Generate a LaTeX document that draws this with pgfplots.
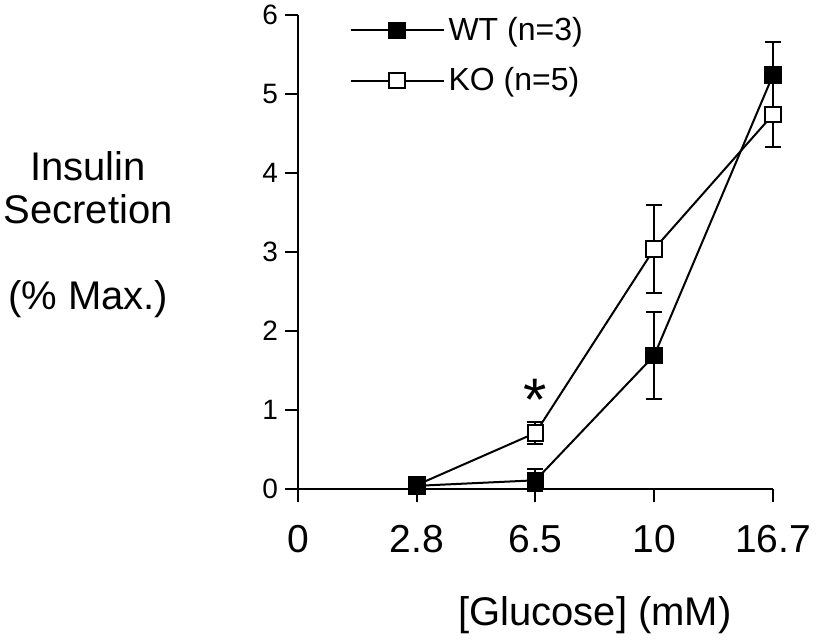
\documentclass[border=0pt]{standalone}
\usepackage{fontspec}
\setmainfont{Liberation Sans}
\usepackage{pgfplots}
\pgfplotsset{compat=1.18}
\begin{document}
\begin{tikzpicture}
\begin{axis}[
    scale only axis,
    width=237.5pt, height=237pt,
    xmin=0, xmax=4, ymin=0, ymax=6,
    axis x line*=bottom, axis y line*=left,
    axis line style={line width=1pt},
    xtick={0,1,2,3,4},
    xticklabels={0,2.8,6.5,10,16.7},
    ytick={0,1,...,6},
    tick align=outside,
    major tick length=6.5pt,
    tick style={line width=1pt, black},
    /pgf/number format/assume math mode=true,
    xticklabel style={font=\fontsize{19.5}{20}\selectfont, yshift=-8pt},
    yticklabel style={font=\fontsize{14}{14}\selectfont},
    clip=false,
    every axis y label/.style={at={(rel axis cs:-0.442,0.536)}, anchor=center,
        align=center, font=\fontsize{20}{21.5}\selectfont},
    every axis x label/.style={at={(rel axis cs:0.625,0)}, yshift=-63pt,
        anchor=center, font=\fontsize{20}{20}\selectfont},
    ylabel={Insulin\\Secretion\\[21.5pt](\% Max.)},
    xlabel={[Glucose] (mM)},
    legend style={draw=none, fill=none, at={(rel axis cs:0.095,1.013)},
        anchor=north west, font=\fontsize{16}{16}\selectfont,
        row sep=8pt, cells={anchor=west}},
    legend image code/.code={\draw[mark repeat=2,mark phase=2,#1]
        plot coordinates {(0pt,0pt)(23.25pt,0pt)(46.5pt,0pt)};},
    reverse legend,
]
\coordinate (O) at (rel axis cs:0,0);

% KO first so that WT squares sit on top at 2.8
\addplot[black, line width=1pt, mark=square*, mark size=3.9pt,
    mark options={fill=white, line width=1pt},
    error bars/.cd, y dir=both, y explicit,
    error bar style={line width=1pt},
    error mark options={rotate=90, mark size=4pt, line width=1pt}]
coordinates {
    (1,0.05) +- (0,0)
    (2,0.71) +- (0,0.14)
    (3,3.04) +- (0,0.56)
    (4,4.74) +- (0,0.41)
};
\addlegendentry{KO (n=5)}

\addplot[black, line width=1pt, mark=square*, mark size=3.9pt,
    mark options={fill=black, line width=1pt},
    error bars/.cd, y dir=both, y explicit,
    error bar style={line width=1pt},
    error mark options={rotate=90, mark size=4pt, line width=1pt}]
coordinates {
    (1,0.04) +- (0,0)
    (2,0.11) +- (0,0.14)
    (3,1.69) +- (0,0.55)
    (4,5.24) +- (0,0.42)
};
\addlegendentry{WT (n=3)}

\node[font=\fontsize{30}{30}\selectfont, anchor=base] at (axis cs:2,0.87) {*};
\end{axis}
\pgfresetboundingbox
\path (O) ++(-149pt,-76.5pt) rectangle ++(408pt,321pt);
\end{tikzpicture}
\end{document}
